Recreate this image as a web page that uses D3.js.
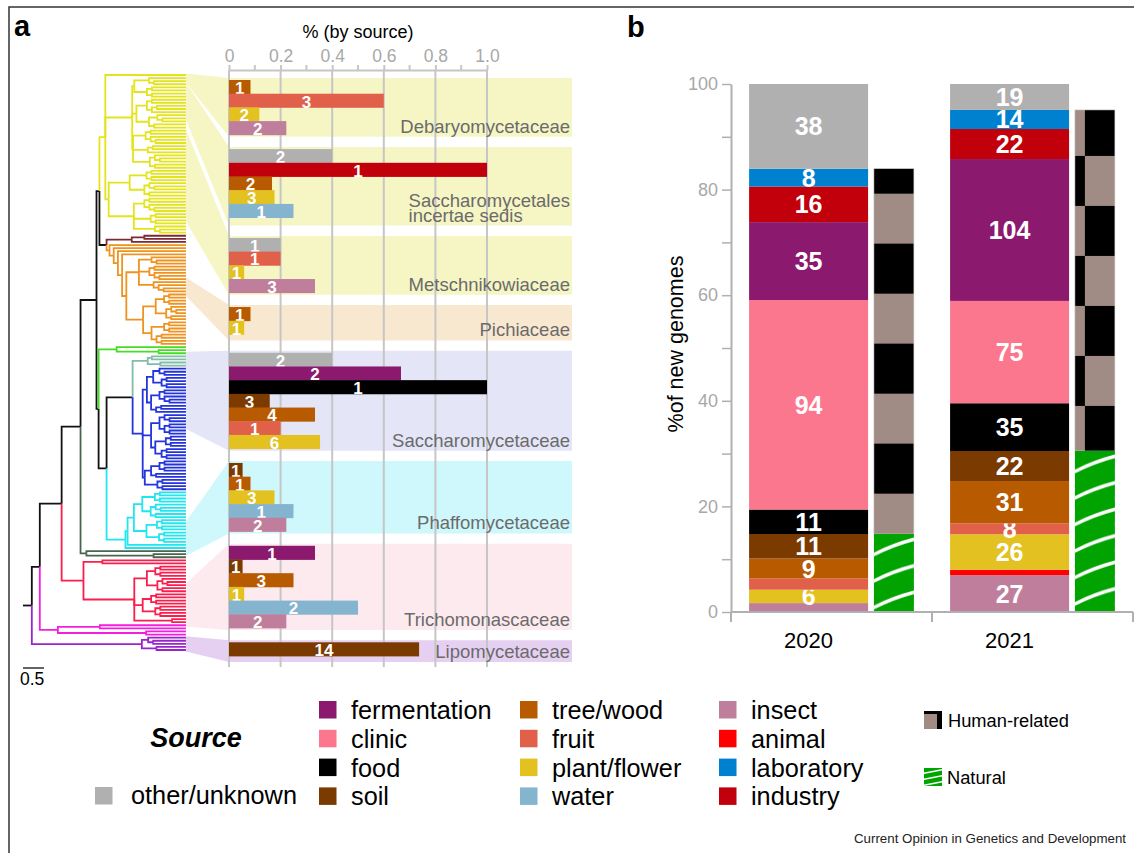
<!DOCTYPE html>
<html>
<head>
<meta charset="utf-8">
<script src="https://cdn.jsdelivr.net/npm/d3@7"></script>
<style>
  body { margin: 0; background: #fff; }
  svg { display: block; font-family: "Liberation Sans", Arial, sans-serif; }
</style>
</head>
<body>
<div id="chart"></div>
<script>
// ---------- sources and colours
const sourceNames = ["fermentation", "clinic", "food", "soil", "tree/wood", "fruit", "plant/flower",
                     "water", "insect", "animal", "laboratory", "industry", "other/unknown"];
const sourceColors = ["#8b1a6e", "#fb778e", "#000000", "#7a3a00", "#b85a00", "#e0604a", "#e2c120",
                      "#85b4cf", "#bf7f9c", "#ff0000", "#0081d0", "#c2000b", "#b0b0b0"];

// ---------- panel a: number of new genomes per family and source
const familyLabels = [["Debaryomycetaceae"], ["Saccharomycetales", "incertae sedis"], ["Metschnikowiaceae"],
                      ["Pichiaceae"], ["Saccharomycetaceae"], ["Phaffomycetaceae"], ["Trichomonascaceae"], ["Lipomycetaceae"]];
const familyBars = [
  [["tree/wood", 1], ["fruit", 3], ["plant/flower", 2], ["insect", 2]],
  [["other/unknown", 2], ["industry", 1], ["tree/wood", 2], ["plant/flower", 3], ["water", 1]],
  [["other/unknown", 1], ["fruit", 1], ["plant/flower", 1], ["insect", 3]],
  [["tree/wood", 1], ["plant/flower", 1]],
  [["other/unknown", 2], ["fermentation", 2], ["food", 1], ["soil", 3], ["tree/wood", 4], ["fruit", 1], ["plant/flower", 6]],
  [["soil", 1], ["tree/wood", 1], ["plant/flower", 3], ["water", 1], ["insect", 2]],
  [["fermentation", 1], ["soil", 1], ["tree/wood", 3], ["plant/flower", 1], ["water", 2], ["insect", 2]],
  [["soil", 14]]
];
const familyShades = ["#f6f6c4", "#f6f6c4", "#f6f6c4", "#f9e8d0", "#e5e5f8", "#cef8fc", "#fdeaee", "#e6d0f2"];
// leaf index range of each family in the tree
const familyTips = [[0, 2], [3, 14], [18, 47], [66, 71], [90, 114], [145, 155], [165, 178], [182, 186]];
const xTickValues = [0, 0.2, 0.4, 0.6, 0.8, 1.0];
const xTickLabels = ["0", "0.2", "0.4", "0.6", "0.8", "1.0"];
const xMinorTicks = [0.1, 0.3, 0.5, 0.7, 0.9];

// ---------- panel a: tree (branch lengths in substitutions/site)
const cladeNames = ["yellow", "maroon", "orange", "green", "greygreen", "blue", "cyan", "dark", "red", "magenta", "purple"];
const cladeColors = ["#e4e41c", "#7c2a32", "#ef9320", "#44dd22", "#84bcaa", "#2434dc", "#20e6f0", "#476650", "#fb1e4c", "#f41ede", "#9a24cc"];
const cladeNewick = [
  "(,(" + "((,(,)):0.35,((,),(,)):0.3)" + ":0.05," + "(((,),((,),)):0.25,((,(,)):0.2,(,)):0.3)" + ":0.1,"
    + "(((,),(,(,))):0.3,((,),):0.35,((,(,)),(,)):0.4)" + ":0.02):0.64,("
    + "(((,),(,)):0.4,((,(,)),(,)):0.35)" + ":0.5," + "(((,),(,(,))):0.25,((,),(,)):0.4,(,(,)):0.5)" + ":0.6):0.08)",
  "((,):0.3,)",
  "(,(,(,(,(" + "((,(,)):0.3,((,),(,(,))):0.25,(,(,(,))):0.35)" + ":0.3,"
    + "((((,),(,)):0.2,((,(,)),(,)):0.25):0.3,(((,),(,)):0.3,((,),(,))):0.2)" + ":0.4):0.1):0.1):0.1):0.1)",
  "(,(,):1.0)",
  "((,):0.1,(,):0.3)",
  "(" + "(((,(,)):0.15,((,),(,)):0.2):0.15,(((,),(,(,))):0.2,((,),)):0.1)" + ":0.1,"
    + "(((,(,)),((,),(,))):0.2,(((,),(,)):0.25,((,),(,)):0.15):0.1)" + ":0.2,"
    + "((((,),(,)):0.2,(,)):0.15,((,),(,)):0.3)" + ":0.05)",
  "((((((,),(,)):0.3,((,(,)),(,)):0.2):0.2,(((,),(,)):0.25,((,),(,)):0.3):0.3):0.15,):0.05,)",
  "(,(,):1.6)",
  "((,):0.45,(" + "(((,),(,)):0.2,((,(,)),(,)):0.25)" + ":0.3," + "(((,),(,)):0.2,((,),(,)):0.3)" + ":0.2,(,):0.9):1.21)",
  "((,):1.0,(,):2.1)",
  "((,(,)):0.15,(,):0.35)"
];
const backbone = {len: 0, children: [
  {len: 0.21, children: [
    {len: 0.19, children: [
      {len: 0.52, children: [
        {len: 0.45, children: [
          {len: 0.38, children: [
            {len: 0.07, children: [
              {clade: "yellow", len: 0.14},
              {len: 0.17, children: [{clade: "maroon", len: 0.6}, {clade: "orange", len: 0.07}]}
            ]},
            {len: 0.05, children: [
              {clade: "green", len: 0.43},
              {len: 0.19, children: [
                {len: 0.62, children: [{clade: "greygreen", len: 0.36}, {clade: "blue", len: 0.24}]},
                {clade: "cyan", len: 0.45}
              ]}
            ]}
          ]},
          {clade: "dark", len: 0.14}
        ]},
        {clade: "red", len: 0.52}
      ]},
      {clade: "magenta", len: 0.43}
    ]},
    {clade: "purple", len: 2.62}
  ]}
]};
const tipDepth = 3.88;
const scaleBarLen = 0.5;

// ---------- panel b: new genomes per year and source
const years = ["2020", "2021"];
const stackSources = ["insect", "animal", "plant/flower", "fruit", "tree/wood", "soil",
                      "food", "clinic", "fermentation", "industry", "laboratory", "other/unknown"];
const counts2020 = [4, 0, 6, 5, 9, 11, 11, 94, 35, 16, 8, 38];
const counts2021 = [27, 4, 26, 8, 31, 22, 35, 75, 104, 22, 14, 19];
const naturalSources = ["insect", "animal", "plant/flower", "fruit", "tree/wood", "soil"];
const humanSources = ["food", "clinic", "fermentation", "industry", "laboratory"];
const yTickValues = [0, 10, 20, 30, 40, 50, 60, 70, 80, 90, 100];

// ---------- legend
const legendCols = [
  ["fermentation", "clinic", "food", "soil"],
  ["tree/wood", "fruit", "plant/flower", "water"],
  ["insect", "animal", "laboratory", "industry"]
];

const color = d3.scaleOrdinal(sourceNames, sourceColors);
const W = 1134, H = 853;
const svg = d3.select("#chart").append("svg").attr("width", W).attr("height", H);
const defs = svg.append("defs");

// frame
svg.append("path").attr("d", "M9,853V7H1134").attr("fill", "none").attr("stroke", "#333").attr("stroke-width", 1.5);
svg.append("text").attr("x", 14).attr("y", 36).text("a").style("font-size", "29px").style("font-weight", "bold");
svg.append("text").attr("x", 627).attr("y", 37).text("b").style("font-size", "29px").style("font-weight", "bold");

// ================= tree
function parseNewick(s) {
  let i = 0;
  function node() {
    const n = {};
    if (s[i] === "(") {
      i++;
      n.children = [node()];
      while (s[i] === ",") { i++; n.children.push(node()); }
      i++;
    }
    if (s[i] === ":") {
      i++;
      const j = i;
      while (i < s.length && /[0-9.]/.test(s[i])) i++;
      n.len = +s.slice(j, i);
    }
    return n;
  }
  return node();
}
function buildTree(n) {
  if (n.clade) {
    const k = cladeNames.indexOf(n.clade);
    const t = parseNewick(cladeNewick[k]);
    t.len = n.len;
    t.color = cladeColors[k];
    return t;
  }
  return {len: n.len, children: n.children ? n.children.map(buildTree) : undefined};
}

const root = d3.hierarchy(buildTree(backbone));
const xTree = d3.scaleLinear().domain([0, 1]).range([23, 65]);
const leaves = root.leaves();
const yTree = d3.scaleLinear().domain([0, leaves.length - 1]).range([75, 650]);
const tipX = xTree(tipDepth);

root.eachBefore(d => {
  if (d.parent) {
    if (d.data.color == null) d.data.color = d.parent.data.color;
    d.dist = d.parent.dist + (d.data.len != null ? d.data.len : (d.children ? 0.12 : 0));
  } else d.dist = 0;
  d.px = d.children ? xTree(Math.min(d.dist, tipDepth - 0.1)) : tipX;
});
leaves.forEach((l, i) => l.py = yTree(i));
root.eachAfter(d => {
  if (d.children) d.py = (d.children[0].py + d.children[d.children.length - 1].py) / 2;
});

// ================= panel a bars
const xBar = d3.scaleLinear().domain([0, 1]).range([229, 487]);
const bandRight = 572;
const allBars = familyBars.flat();
const sourceTotal = d3.rollup(allBars, v => d3.sum(v, d => d[1]), d => d[0]);

const rowH = 13.7;
const bandH = familyBars.map((b, i) => b.length * rowH + 4 + (familyLabels[i].length > 1 ? 6 : 0) + (b.length < 3 ? 4 : 0));
const bandTop0 = 78, bandBottom = 662;
const gap = (bandBottom - bandTop0 - d3.sum(bandH)) / (bandH.length - 1);
let yCur = bandTop0;
const bandY = bandH.map(h => { const y = yCur; yCur += h + gap; return y; });

const gA = svg.append("g");
// wedges + bands
familyLabels.forEach((lab, i) => {
  const t0 = yTree(familyTips[i][0]) - 1.5, t1 = yTree(familyTips[i][1]) + 1.5;
  const y0 = bandY[i], y1 = bandY[i] + bandH[i];
  gA.append("path")
    .attr("d", `M${tipX},${t0}L${xBar(0)},${y0}H${bandRight}V${y1}H${xBar(0)}L${tipX},${t1}Z`)
    .attr("fill", familyShades[i]);
});

// gridlines
gA.selectAll(".grid").data(xTickValues).enter().append("line")
  .attr("x1", d => xBar(d)).attr("x2", d => xBar(d))
  .attr("y1", 70).attr("y2", 667)
  .attr("stroke", "#c6c6c6").attr("stroke-width", 2);
gA.selectAll(".minor").data(xMinorTicks).enter().append("line")
  .attr("x1", d => xBar(d)).attr("x2", d => xBar(d))
  .attr("y1", 65).attr("y2", 70)
  .attr("stroke", "#c6c6c6").attr("stroke-width", 2);

const axA = gA.append("g").attr("transform", "translate(0,70)")
  .call(d3.axisTop(xBar).tickValues(xTickValues).tickSize(5).tickSizeOuter(0).tickPadding(3)
    .tickFormat((d, i) => xTickLabels[i]));
axA.select(".domain").attr("stroke", "#c6c6c6").attr("stroke-width", 2);
axA.selectAll(".tick line").attr("stroke", "#c6c6c6").attr("stroke-width", 2);
axA.selectAll(".tick text").attr("fill", "#a8a8a8").style("font-size", "17.5px").style("font-family", "Liberation Sans, Arial, sans-serif");
gA.append("text").attr("x", 358).attr("y", 38).attr("text-anchor", "middle")
  .style("font-size", "18px").text("% (by source)");

familyBars.forEach((bars, i) => {
  const g = gA.append("g");
  bars.forEach((b, k) => {
    const frac = b[1] / sourceTotal.get(b[0]);
    const y = bandY[i] + 2 + k * rowH;
    g.append("rect").attr("x", xBar(0)).attr("y", y)
      .attr("width", xBar(frac) - xBar(0)).attr("height", rowH + 0.4)
      .attr("fill", color(b[0]));
    g.append("text").attr("x", (xBar(0) + xBar(frac)) / 2).attr("y", y + rowH / 2 + 7)
      .attr("text-anchor", "middle").attr("fill", "#fff")
      .style("font-size", "17px").style("font-weight", "bold").text(b[1]);
  });
  const lines = familyLabels[i];
  const yb = bandY[i] + bandH[i] - 4;
  const lab = gA.append("text").attr("fill", "#6b6b6b").style("font-size", "18.5px");
  lines.forEach((t, k) => lab.append("tspan").attr("x", 0).attr("y", yb - (lines.length - 1 - k) * 15).text(t));
  const w = lab.node().getBBox().width;
  lab.attr("transform", `translate(${570 - w},0)`);
});

// tree drawn on top
const gT = svg.append("g");
gT.selectAll("path").data(root.links()).enter().append("path")
  .attr("d", l => `M${l.source.px},${l.source.py}V${l.target.py}H${l.target.px}`)
  .attr("fill", "none")
  .attr("stroke", l => l.target.data.color || "#111")
  .attr("stroke-width", 1.8);

// scale bar
gT.append("line").attr("x1", xTree(0)).attr("x2", xTree(scaleBarLen)).attr("y1", 668).attr("y2", 668)
  .attr("stroke", "#111").attr("stroke-width", 1.3);
gT.append("text").attr("x", 20).attr("y", 685).style("font-size", "17.5px").text(scaleBarLen);

// ================= panel b
const yPct = d3.scaleLinear().domain([0, 100]).range([612, 84]);
const xYear = d3.scaleBand().domain(years).range([731, 1133]);
const bw = xYear.bandwidth();
const yearCounts = [counts2020, counts2021];
const rows = years.map((y, i) => Object.fromEntries(stackSources.map((s, k) => [s, yearCounts[i][k]])));
const series = d3.stack().keys(stackSources).offset(d3.stackOffsetExpand)(rows);

const gB = svg.append("g");
series.forEach(s => {
  s.forEach((seg, i) => {
    if (seg[1] - seg[0] <= 0) return;
    const x0 = xYear(years[i]) + bw * 0.09, w = bw * 0.592;
    gB.append("rect").attr("x", x0).attr("width", w)
      .attr("y", yPct(seg[1] * 100)).attr("height", yPct(seg[0] * 100) - yPct(seg[1] * 100))
      .attr("fill", color(s.key));
    const n = rows[i][s.key];
    if (n >= 6) {
      gB.append("text").attr("x", x0 + w / 2).attr("y", yPct((seg[0] + seg[1]) * 50) + 9)
        .attr("text-anchor", "middle").attr("fill", "#fff")
        .style("font-size", "25px").style("font-weight", "bold").text(n);
    }
  });
});

// hatched bars: natural vs human-related
const checkerShift = [[-5, -25], [-40, -54]];
years.forEach((yr, i) => {
  const tot = d3.sum(yearCounts[i]);
  const nat = d3.sum(naturalSources, s => rows[i][s]) / tot * 100;
  const hum = nat + d3.sum(humanSources, s => rows[i][s]) / tot * 100;
  const x0 = xYear(yr) + bw * 0.711, w = bw * 0.199;

  const ph = defs.append("pattern").attr("id", "human" + i).attr("patternUnits", "userSpaceOnUse")
    .attr("x", x0 + checkerShift[i][0]).attr("y", yPct(hum) + checkerShift[i][1])
    .attr("width", 100).attr("height", 100);
  ph.append("rect").attr("width", 100).attr("height", 100).attr("fill", "#a08c84");
  ph.append("rect").attr("width", 50).attr("height", 50).attr("fill", "#000");
  ph.append("rect").attr("x", 50).attr("y", 50).attr("width", 50).attr("height", 50).attr("fill", "#000");

  const pn = defs.append("pattern").attr("id", "natural" + i).attr("patternUnits", "userSpaceOnUse")
    .attr("x", x0).attr("y", yPct(nat)).attr("width", w).attr("height", 26.5);
  pn.append("rect").attr("width", w).attr("height", 26.5).attr("fill", "#00a300");
  pn.append("path").attr("d", `M-1,21Q${w * 0.45},11 ${w + 1},5`).attr("fill", "none")
    .attr("stroke", "#fff").attr("stroke-width", 3.4);

  gB.append("rect").attr("x", x0).attr("width", w)
    .attr("y", yPct(hum)).attr("height", yPct(nat) - yPct(hum))
    .attr("fill", `url(#human${i})`).attr("stroke", "#ccc").attr("stroke-width", 0.6);
  gB.append("rect").attr("x", x0).attr("width", w)
    .attr("y", yPct(nat)).attr("height", yPct(0) - yPct(nat))
    .attr("fill", `url(#natural${i})`);
});

// axes
const axB = gB.append("g").attr("transform", "translate(731,0)")
  .call(d3.axisLeft(yPct).tickValues(yTickValues).tickSize(9).tickSizeOuter(0).tickPadding(4)
    .tickFormat(d => d % 20 === 0 ? d : ""));
axB.select(".domain").attr("stroke", "#b0b0b0").attr("stroke-width", 2);
axB.selectAll(".tick line").attr("stroke", "#b0b0b0").attr("stroke-width", 1.5);
axB.selectAll(".tick text").attr("fill", "#a8a8a8").style("font-size", "18px").style("font-family", "Liberation Sans, Arial, sans-serif");

const xEdges = years.map(y => xYear(y)).concat([xYear.range()[1]]);
gB.append("line").attr("x1", xEdges[0]).attr("x2", xEdges[xEdges.length - 1]).attr("y1", yPct(0)).attr("y2", yPct(0))
  .attr("stroke", "#b0b0b0").attr("stroke-width", 2);
gB.selectAll(".xt").data(xEdges).enter().append("line")
  .attr("x1", d => d).attr("x2", d => d).attr("y1", yPct(0)).attr("y2", yPct(0) + 10)
  .attr("stroke", "#b0b0b0").attr("stroke-width", 2);
gB.selectAll(".xl").data(years).enter().append("text")
  .attr("x", d => xYear(d) + bw * 0.09 + bw * 0.296).attr("y", 648)
  .attr("text-anchor", "middle").style("font-size", "22px").text(d => d);
gB.append("text").attr("transform", "translate(683,344) rotate(-90)").attr("text-anchor", "middle")
  .style("font-size", "21.5px").text("%of new genomes");

// ================= legend
const gL = svg.append("g");
gL.append("text").attr("x", 196).attr("y", 747).attr("text-anchor", "middle")
  .style("font-size", "27px").style("font-weight", "bold").style("font-style", "italic").text("Source");
const legendX = [319, 520, 719];
legendCols.forEach((col, c) => {
  col.forEach((s, r) => {
    const y = 701 + r * 28.8;
    gL.append("rect").attr("x", legendX[c]).attr("y", y).attr("width", 17.5).attr("height", 17.5).attr("fill", color(s));
    gL.append("text").attr("x", legendX[c] + 32).attr("y", y + 18).style("font-size", "25.3px").text(s);
  });
});
gL.append("rect").attr("x", 95).attr("y", 787).attr("width", 17.5).attr("height", 17.5).attr("fill", color("other/unknown"));
gL.append("text").attr("x", 131).attr("y", 804).style("font-size", "25.3px").text("other/unknown");

// human-related / natural keys
gL.append("rect").attr("x", 924).attr("y", 711).attr("width", 18).attr("height", 18).attr("fill", "#a08c84");
gL.append("rect").attr("x", 924).attr("y", 711).attr("width", 18).attr("height", 3).attr("fill", "#000");
gL.append("rect").attr("x", 937).attr("y", 714).attr("width", 5).attr("height", 15).attr("fill", "#000");
gL.append("text").attr("x", 948).attr("y", 727).style("font-size", "18.3px").text("Human-related");
const pk = defs.append("pattern").attr("id", "natKey").attr("patternUnits", "userSpaceOnUse")
  .attr("x", 924).attr("y", 768).attr("width", 18).attr("height", 6);
pk.append("rect").attr("width", 18).attr("height", 6).attr("fill", "#00a300");
pk.append("path").attr("d", "M-1,5.5L19,1.5").attr("stroke", "#fff").attr("stroke-width", 1.4);
gL.append("rect").attr("x", 924).attr("y", 768).attr("width", 18).attr("height", 18).attr("fill", "url(#natKey)");
gL.append("text").attr("x", 947).attr("y", 784).style("font-size", "18.3px").text("Natural");

svg.append("text").attr("x", 854).attr("y", 843).attr("fill", "#222")
  .style("font-size", "13.3px").text("Current Opinion in Genetics and Development");
</script>
</body>
</html>
